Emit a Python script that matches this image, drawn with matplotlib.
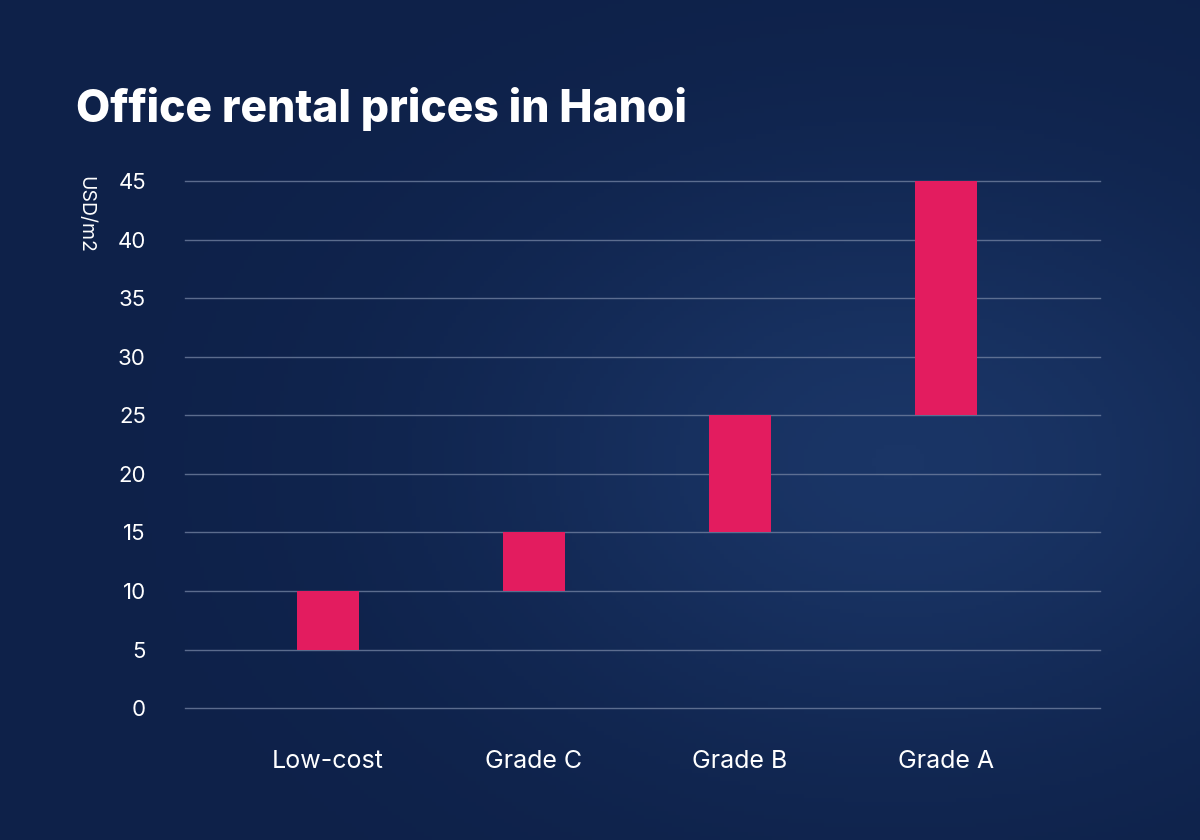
import matplotlib
matplotlib.use("Agg")
import matplotlib.pyplot as plt
import numpy as np

categories = ["Low-cost", "Grade C", "Grade B", "Grade A"]
low = [5, 10, 15, 25]
high = [10, 15, 25, 45]
yticks = [0, 5, 10, 15, 20, 25, 30, 35, 40, 45]

BG = "#10244f"
PINK = "#e31c5f"

plt.rcParams["font.family"] = ["Inter", "DejaVu Sans"]

fig = plt.figure(figsize=(12, 8.4), dpi=100)
fig.patch.set_facecolor(BG)

# soft background vignette
bg = fig.add_axes([0, 0, 1, 1], zorder=-10)
yy, xx = np.mgrid[0:1:200j, 0:1:300j]
glow = np.exp(-((xx - 0.75) ** 2 + (yy - 0.45) ** 2) / 0.12)
bg.imshow(glow, cmap=matplotlib.colors.LinearSegmentedColormap.from_list("g", ["#0e2149", "#1a3566"]),
          extent=[0, 1, 0, 1], aspect="auto", origin="lower")
bg.axis("off")

ax = fig.add_axes([0.154, 0.157, 0.763, 0.6274])
ax.set_facecolor("none")
x = np.arange(len(categories))
heights = [h - l for l, h in zip(low, high)]
ax.bar(x, heights, bottom=low, width=0.3, color=PINK, zorder=3)

ax.set_xlim(-0.695, 3.75)
ax.set_ylim(0, 45)
ax.set_yticks(yticks)
ax.grid(axis="y", color="#6f7f9f", linewidth=1, alpha=0.8)
for gl in ax.get_ygridlines():
    gl.set_clip_on(False)
ax.set_xticks(x)
ax.set_xticklabels(categories)
ax.tick_params(axis="both", length=0, colors="white", labelsize=16)
ax.tick_params(axis="x", pad=30, labelsize=18)
ax.tick_params(axis="y", pad=28)
for s in ax.spines.values():
    s.set_visible(False)

fig.text(0.071, 0.79, "USD/m2", rotation=270, color="white", fontsize=14, va="top", ha="center")
fig.text(0.063, 0.87, "Office rental prices in Hanoi", color="white",
         fontsize=32, fontweight="heavy", va="center")

fig.savefig("out.png", dpi=100, facecolor=BG)
